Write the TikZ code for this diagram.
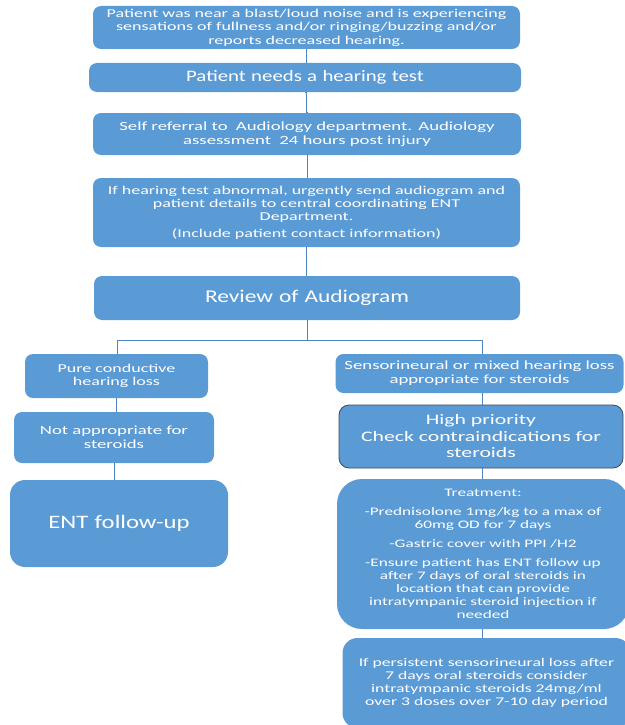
\documentclass[tikz,border=0pt]{standalone}
\usepackage{fontspec}
\setmainfont[FakeStretch=1.3]{Carlito}
\newfontfamily\widefont[FakeStretch=1.5]{Carlito}
\usetikzlibrary{positioning}
\definecolor{boxblue}{HTML}{5B9BD5}
\definecolor{lineblue}{HTML}{4F85C2}
\definecolor{edgedark}{HTML}{3A4A60}

\begin{document}
\begin{tikzpicture}[x=1pt, y=-1pt,
    flowbox/.style={fill=boxblue, text=white, rounded corners=8pt, align=center,
                    inner sep=2pt, font=\widefont\fontsize{12}{13.4}\selectfont},
    link/.style={draw=lineblue, line width=0.9pt}]
\useasboundingbox (0,0) rectangle (624,725);

% main column
\node[flowbox, minimum width=427pt, minimum height=43pt, text width=420pt] (blast) at (306.5,27.5)
  {Patient was near a blast/loud noise and is experiencing\\
   sensations of fullness and/or ringing/buzzing and/or\\
   reports decreased hearing.};
\node[flowbox, minimum width=432pt, minimum height=29pt, text width=424pt,
      font=\rmfamily\fontsize{16}{18}\selectfont] (test) at (305,77.5)
  {Patient needs a hearing test};
\node[flowbox, minimum width=428pt, minimum height=42pt, text width=420pt,
      font=\widefont\fontsize{12.5}{14}\selectfont] (referral) at (307,134)
  {Self referral to\ \ Audiology department. Audiology\\
   assessment\ \ 24 hours post injury};
\node[flowbox, minimum width=427pt, minimum height=69pt, text width=420pt] (abnormal) at (306.5,212.5)
  {If hearing test abnormal, urgently send audiogram and\\
   patient details to central coordinating ENT\\
   Department.\\[3pt]
   (Include patient contact information)};
\node[flowbox, minimum width=426pt, minimum height=44pt, text width=418pt,
      font=\rmfamily\fontsize{18}{20}\selectfont] (review) at (307,298)
  {Review of Audiogram};

% split points
\coordinate (splitL) at (117,340);
\coordinate (splitR) at (482,340);

% left branch
\node[flowbox, minimum width=183pt, minimum height=44pt, text width=178pt] (conductive) at (116.5,376)
  {Pure conductive\\ hearing loss};
\node[flowbox, minimum width=200pt, minimum height=51pt, text width=194pt,
      font=\widefont\fontsize{12.5}{14}\selectfont] (notsteroid) at (114,437.5)
  {Not appropriate for\\ steroids};
\node[flowbox, minimum width=218pt, minimum height=87pt, text width=210pt, rounded corners=15pt,
      font=\rmfamily\fontsize{19}{21}\selectfont] (entfu) at (119,523.5)
  {ENT follow-up};

% right branch
\node[flowbox, minimum width=287pt, minimum height=39pt, text width=284pt,
      font=\widefont\fontsize{12.5}{14}\selectfont] (sensori) at (479.5,373.5)
  {Sensorineural or mixed hearing loss\\ appropriate for steroids};
\node[flowbox, minimum width=284pt, minimum height=63pt, text width=280pt, rounded corners=10pt,
      draw=edgedark, line width=0.8pt,
      font=\widefont\fontsize{14.5}{16.5}\selectfont] (priority) at (481,436.5)
  {High priority\\ Check contraindications for\\ steroids};
\node[flowbox, minimum width=292pt, minimum height=150pt, text width=288pt, rounded corners=25pt,
      font=\widefont\fontsize{11.5}{13}\selectfont] (treat) at (483,554)
  {Treatment:\\[6pt]
   -Prednisolone 1mg/kg to a max of\\ 60mg OD for 7 days\\[6pt]
   -Gastric cover with PPI /H2\\[6pt]
   -Ensure patient has ENT follow up\\ after 7 days of oral steroids in\\
   location that can provide\\ intratympanic steroid injection if\\ needed};
\node[flowbox, minimum width=287pt, minimum height=90pt, text width=284pt, rounded corners=15pt,
      font=\widefont\fontsize{11.8}{13.2}\selectfont] (persist) at (486.5,683)
  {If persistent sensorineural loss after\\ 7 days oral steroids consider\\
   intratympanic steroids 24mg/ml\\ over 3 doses over 7-10 day period};

% connectors
\draw[link] (blast.south) -- (blast.south |- test.north);
\draw[link] (test.south) -- (test.south -| blast.south) |- (referral.north);
\draw[link] (referral.south) -- (referral.south |- abnormal.north);
\draw[link] (abnormal.south) -- (abnormal.south |- review.north);
\draw[link] (review.south) -- (review.south |- splitL);
\draw[link] (splitL) -- (splitR);
\draw[link] (splitL) -- (splitL |- conductive.north);
\draw[link] (splitR) -- (splitR |- sensori.north);
\draw[link] (conductive.south) -- (conductive.south |- notsteroid.north);
\draw[link] (notsteroid.south) -- (notsteroid.south |- entfu.north);
\draw[link] (splitR |- sensori.south) -- (splitR |- priority.north);
\draw[link] (splitR |- priority.south) -- (splitR |- treat.north);
\draw[link] (splitR |- treat.south) -- (splitR |- persist.north);
\end{tikzpicture}
\end{document}
